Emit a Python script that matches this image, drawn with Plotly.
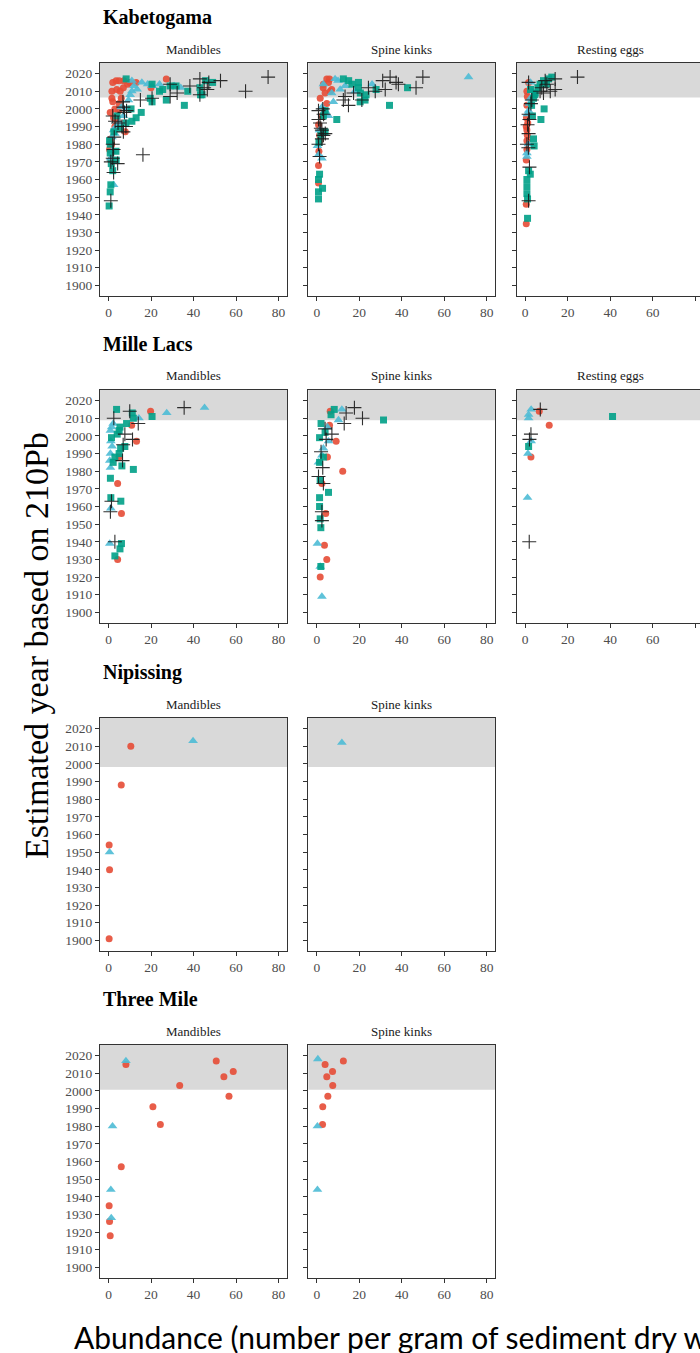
import plotly.graph_objects as go

# page body margin is removed by a small post script, so figure pixels == page pixels
OFF = 0
W, H = 700 - OFF, 1353 - OFF

# ---------------- data ----------------
lakes = ["Kabetogama", "Mille Lacs", "Nipissing", "Three Mile"]
panel_names = ["Mandibles", "Spine kinks", "Resting eggs"]
shade_start = [2006.5, 2008.8, 1998.2, 2000.6]
x_ticks = [0, 20, 40, 60, 80]
y_ticks = list(range(1900, 2021, 10))
group_names = ["Group 1", "Group 2", "Group 3", "Group 4"]

kab_mand_red = [(3.6,2016),(5.0,2016),(7.2,2016),(10.0,2015),(13.0,2015),(27.2,2017),(20.0,2012),(1.6,2010),(1.6,2006),(2.0,2004),(3.9,2011),(5.5,2010),(7.0,2012),(6.0,2006),(5.0,2003),(3.0,2000),(4.7,1999),(0.8,1998),(2.4,1995),(7.9,1987),(1.0,1983),(1.5,1980),(0.5,1977),(1.0,1971),(2.0,2015),(9.0,2014),(3.0,1990),(4.2,1993)]
kab_mand_blue = [(2.4,1957),(1.0,1972),(1.6,1976),(1.6,1984),(2.4,1988),(3.5,1990),(5.0,1992),(7.0,1996),(8.5,2000),(9.4,2005),(10.2,2008),(11.0,2010),(12.0,2013),(11.0,2016),(15.7,2015),(18.4,2014),(20.5,2013),(24.0,2014),(31.0,2013),(34.0,2012),(3.0,1986),(6.0,2001),(13.5,2011)]
kab_mand_green = [(0.3,1945),(0.8,1953),(1.1,1957),(2.0,1965),(1.3,1969),(3.6,1971),(0.8,1975),(0.8,1980),(0.5,1982),(2.5,1987),(5.5,1989),(8.2,1992),(10.6,2000),(11.0,1993),(13.0,1995),(15.4,1998),(19.7,2006),(20.5,2004),(20.5,2014),(24.0,2010),(25.5,2011),(27.2,2005),(29.0,2013),(31.8,2013),(35.7,2002),(37.3,2010),(43.0,2012),(43.3,2008),(44.0,2008),(45.7,2016),(49.0,2015),(8.3,2017),(3.5,1976),(4.0,1996)]
kab_mand_black = [(1.1,1948),(1.1,1970),(2.4,1964),(4.3,1969),(2.0,1980),(2.4,1977),(2.7,1984),(2.0,1996),(3.1,1993),(4.5,1992),(6.3,1990),(7.0,1987),(8.2,1990),(6.8,2004),(7.0,2001),(7.5,1998),(8.5,1999),(15.0,2005),(16.2,1974),(20.5,2006),(29.0,2014),(29.0,2007),(32.3,2009),(38.3,2013),(43.0,2017),(43.0,2008),(45.0,2012),(46.5,2011),(47.2,2015),(52.7,2016),(64.5,2010),(75.1,2018),(2.0,1972)]

kab_spine_red = [(4.7,2017),(6.0,2017),(3.1,2014),(5.5,2015),(3.9,2009),(1.6,2006),(6.3,2010),(7.0,2011),(4.7,2003),(2.4,1996),(0.8,1991),(1.3,1985),(0.8,1968),(0.8,1958),(1.0,1976),(1.5,1982),(3.0,2012)]
kab_spine_blue = [(3.1,2014),(8.6,2017),(11.0,2011),(7.0,2009),(7.8,2004),(2.4,2001),(3.9,1999),(5.5,1996),(1.3,1988),(0.3,1979),(0.8,1974),(2.4,1972),(26.0,2014),(71.4,2018),(13.3,2013),(18.0,2010),(10.0,2016)]
kab_spine_green = [(12.5,2017),(15.0,2016),(16.5,2014),(19.6,2015),(19.6,2012),(20.4,2004),(23.2,2008),(22.7,2005),(27.9,2011),(9.4,1994),(34.2,2002),(42.7,2012),(3.9,1999),(3.1,1996),(1.9,1985),(3.1,1987),(3.9,1987),(1.3,1963),(0.8,1960),(2.7,1955),(0.8,1953),(0.8,1949),(1.0,1981),(20.5,2009)]
kab_spine_black = [(0.8,1994),(0.8,1999),(2.8,2000),(3.2,1997),(1.9,1989),(2.4,1988),(3.1,1985),(4.0,1986),(2.4,1983),(0.8,1980),(1.3,1973),(12.5,2005),(14.9,2002),(13.3,2007),(17.3,2009),(21.2,2005),(24.3,2012),(27.5,2010),(31.0,2016),(34.5,2018),(32.2,2011),(37.3,2015),(38.4,2014),(46.7,2012),(49.9,2018),(1.5,1992)]

kab_eggs_red = [(1.6,2015),(0.8,2010),(1.0,2007),(0.8,2002),(0.6,1995),(0.5,1990),(0.8,1988),(1.0,1985),(0.8,1982),(0.8,1977),(0.5,1971),(0.5,1946),(0.5,1935),(1.2,1992)]
kab_eggs_blue = [(2.5,2015),(3.1,2010),(2.4,2006),(1.6,1999),(1.0,1997),(1.5,1980),(0.8,1973),(0.8,1975),(2.0,2003)]
kab_eggs_green = [(1.6,1965),(0.8,1960),(0.8,1956),(0.8,1952),(1.1,1949),(1.1,1938),(2.4,1963),(3.9,1983),(4.2,1979),(3.4,1996),(8.9,2000),(7.4,1994),(4.5,2008),(7.0,2014),(8.6,2016),(12.5,2018),(10.0,2014),(6.0,2012),(3.9,2006),(4.7,2009),(2.5,2011),(3.0,2002),(11.0,2017)]
kab_eggs_black = [(1.6,2015),(3.1,2005),(2.7,2003),(1.6,1997),(2.0,1994),(1.1,1991),(1.6,1986),(0.8,1980),(1.5,1978),(2.0,1967),(1.6,1948),(7.8,2012),(7.0,2010),(10.2,2014),(11.8,2010),(14.1,2017),(14.1,2011),(24.6,2018),(8.6,2009),(9.4,2016)]

mil_mand_red = [(19.8,2014),(10.9,2006),(13.2,1997),(5.0,1988),(4.3,1973),(6.1,1956),(4.3,1930)]
mil_mand_blue = [(45.2,2016),(27.4,2013),(14.3,2010),(2.2,2007),(0.9,2003),(1.1,1997),(1.7,1994),(0.9,1990),(0.6,1986),(0.9,1982),(1.1,1959),(0.6,1939),(1.5,2005)]
mil_mand_green = [(3.8,2015),(11.2,2013),(11.7,2010),(20.5,2011),(8.5,2007),(5.4,2005),(5.0,2003),(4.1,2001),(1.4,1999),(7.7,1994),(5.7,1993),(5.0,1990),(3.0,1988),(2.2,1985),(6.3,1983),(11.7,1981),(0.9,1976),(1.1,1965),(5.8,1963),(6.1,1939),(5.4,1936),(3.0,1932)]
mil_mand_black = [(2.5,2010),(10.0,2014),(14.0,2007),(7.7,2001),(11.3,1998),(6.9,1995),(6.6,1986),(1.4,1963),(0.9,1957),(3.0,1940),(35.6,2016)]

mil_spine_red = [(6.3,2014),(6.0,2006),(9.1,1997),(5.0,1988),(12.2,1980),(2.4,1973),(4.2,1956),(3.6,1938),(4.7,1930),(1.6,1920)]
mil_spine_blue = [(11.8,2015),(10.2,2009),(5.0,2005),(5.5,1997),(3.1,1993),(2.4,1989),(0.8,1985),(0.3,1939),(2.4,1909),(1.6,1926)]
mil_spine_green = [(8.2,2015),(6.7,2012),(2.0,2007),(1.3,1999),(3.9,2002),(3.1,1988),(1.3,1985),(1.6,1975),(5.5,1968),(1.3,1965),(1.3,1960),(1.6,1953),(1.9,1948),(1.9,1926),(31.4,2009)]
mil_spine_black = [(17.7,2016),(13.8,2013),(12.9,2007),(21.5,2010),(3.9,2004),(7.1,2001),(4.4,1998),(2.0,1991),(2.8,1982),(0.8,1977),(3.1,1973),(2.4,1957),(2.4,1952)]

mil_eggs_red = [(6.6,2014),(11.3,2006),(2.7,1988)]
mil_eggs_blue = [(2.8,2015),(1.6,2012),(1.6,2010),(2.8,1997),(1.3,1990),(1.1,1965)]
mil_eggs_green = [(41.1,2011),(1.6,1994)]
mil_eggs_black = [(7.1,2015),(2.7,2001),(2.0,1998),(1.9,1940)]

nip_mand_red = [(10.5,2010),(6.0,1988),(0.3,1954),(0.5,1940),(0.3,1901)]
nip_mand_blue = [(39.8,2013),(0.5,1950)]
nip_spine_blue = [(11.8,2012)]

thr_mand_red = [(8.2,2015),(50.7,2017),(54.3,2008),(58.7,2011),(56.7,1997),(33.5,2003),(20.9,1991),(24.4,1981),(6.0,1957),(0.3,1935),(0.5,1926),(0.8,1918)]
thr_mand_blue = [(8.2,2017),(1.9,1980),(1.1,1944),(1.3,1928)]
thr_spine_red = [(12.5,2017),(3.9,2015),(7.4,2011),(4.7,2008),(7.5,2003),(5.2,1997),(2.8,1991),(2.7,1981)]
thr_spine_blue = [(0.5,2018),(0.3,1980),(0.3,1944)]

# panel list: (row, col, [red, blue, green, black])
panels = [
    (0, 0, [kab_mand_red, kab_mand_blue, kab_mand_green, kab_mand_black]),
    (0, 1, [kab_spine_red, kab_spine_blue, kab_spine_green, kab_spine_black]),
    (0, 2, [kab_eggs_red, kab_eggs_blue, kab_eggs_green, kab_eggs_black]),
    (1, 0, [mil_mand_red, mil_mand_blue, mil_mand_green, mil_mand_black]),
    (1, 1, [mil_spine_red, mil_spine_blue, mil_spine_green, mil_spine_black]),
    (1, 2, [mil_eggs_red, mil_eggs_blue, mil_eggs_green, mil_eggs_black]),
    (2, 0, [nip_mand_red, nip_mand_blue, [], []]),
    (2, 1, [[], nip_spine_blue, [], []]),
    (3, 0, [thr_mand_red, thr_mand_blue, [], []]),
    (3, 1, [thr_spine_red, thr_spine_blue, [], []]),
]

# ---------------- styles ----------------
colors = ["#E64B35", "#4DBBD5", "#00A087", "#1A1A1A"]
symbols = ["circle", "triangle-up", "square", "cross-thin"]
sizes = [7, 8.5, 7, 10]

col_left = [100, 308.3, 516.7]
panel_w = 187
row_top = [63, 390, 718, 1045]
panel_h = 233
x_lo, x_hi = -4, 84
y_lo, y_hi = 1894, 2026
px_per_x = panel_w / (x_hi - x_lo)


def fx(px):
    return (px - OFF) / W


def fy(py):
    return 1 - (py - OFF) / H


serif = "Liberation Serif"
fig = go.Figure()
layout = dict(
    width=W, height=H, margin=dict(l=0, r=0, t=0, b=0),
    paper_bgcolor="white", plot_bgcolor="white", showlegend=False,
)
shapes, annotations = [], []

for k, (r, c, groups) in enumerate(panels, start=1):
    left = col_left[c]
    right = left + panel_w
    xr = [x_lo, x_hi]
    if right > 700:
        xr = [x_lo, x_lo + (700 - left) / px_per_x]
        right = 700
    xd = [fx(left), min(1.0, fx(right))]
    yd = [fy(row_top[r] + panel_h), fy(row_top[r])]
    sfx = "" if k == 1 else str(k)
    axis_common = dict(showgrid=False, zeroline=False, showline=True, linecolor="#333333",
                       linewidth=1, ticks="outside", ticklen=4, tickwidth=1, tickcolor="#333333",
                       tickfont=dict(family=serif, size=13.5, color="#4D4D4D"))
    layout["xaxis" + sfx] = dict(domain=xd, range=xr, anchor="y" + sfx, tickvals=x_ticks,
                                 mirror=True, **axis_common)
    layout["yaxis" + sfx] = dict(domain=yd, range=[y_lo, y_hi], anchor="x" + sfx, tickvals=y_ticks,
                                 mirror=(c != 2), showticklabels=(c == 0), **axis_common)
    shapes.append(dict(type="rect", xref="x" + sfx + " domain", x0=0, x1=1,
                       yref="y" + sfx, y0=shade_start[r], y1=y_hi,
                       fillcolor="#D9D9D9", line=dict(width=0), layer="below"))
    for g, pts in enumerate(groups):
        if not pts:
            continue
        mk = dict(color=colors[g], symbol=symbols[g], size=sizes[g], opacity=0.9)
        if symbols[g] == "cross-thin":
            mk["line"] = dict(color=colors[g], width=1.1)
        fig.add_trace(go.Scatter(x=[p[0] for p in pts], y=[p[1] for p in pts], mode="markers",
                                 marker=mk, name=group_names[g], xaxis="x" + sfx, yaxis="y" + sfx,
                                 cliponaxis=False))
    annotations.append(dict(text=panel_names[c], xref="paper", yref="paper",
                            x=fx(left + panel_w / 2), y=fy(row_top[r] - 14),
                            xanchor="center", yanchor="middle", showarrow=False,
                            font=dict(family=serif, size=13, color="#1A1A1A")))

for r, lake in enumerate(lakes):
    annotations.append(dict(text="<b>" + lake + "</b>", xref="paper", yref="paper",
                            x=fx(100.5), y=fy(row_top[r] - 46), xanchor="left", yanchor="middle",
                            showarrow=False, font=dict(family=serif, size=20, color="black")))

annotations.append(dict(text="Estimated year based on 210Pb", xref="paper", yref="paper",
                        x=fx(36), y=fy(646), xanchor="center", yanchor="middle", textangle=-90,
                        showarrow=False, font=dict(family=serif, size=34, color="black")))
annotations.append(dict(text="Abundance (number per gram of sediment dry weight)", xref="paper", yref="paper",
                        x=fx(72), y=fy(1337), xanchor="left", yanchor="middle",
                        showarrow=False, font=dict(family="Lato", size=30, color="black")))

layout["shapes"] = shapes
layout["annotations"] = annotations
fig.update_layout(**layout)
fig.write_html("out.html", config={"displayModeBar": False},
               post_script="document.body.style.margin='0px';")
